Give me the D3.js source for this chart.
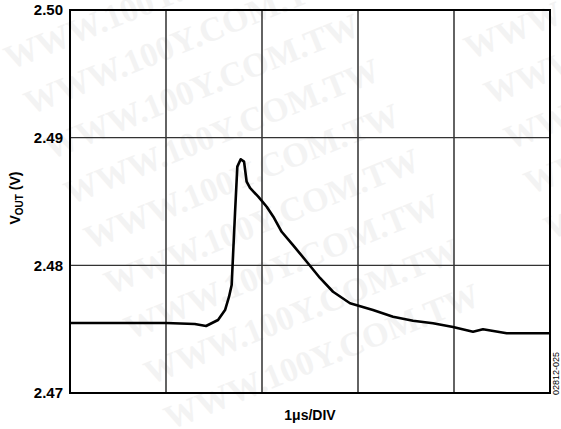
<!doctype html>
<html>
<head>
<meta charset="utf-8">
<script src="https://d3js.org/d3.v7.min.js"></script>
<style>
  body { margin: 0; background: #fff; }
  text { font-family: Arial, "Liberation Sans", sans-serif; }
  .tick-label { font-size: 15px; font-weight: bold; }
  .wm { font-family: "Liberation Serif", "DejaVu Serif", serif; font-weight: bold; font-size: 34px; fill: #f3f3f3; }
</style>
</head>
<body>
<svg width="561" height="429"></svg>
<script>
// time in microseconds, output voltage in volts
var timeUs = [0, 1.0, 1.30, 1.417, 1.542, 1.615, 1.656, 1.684, 1.719, 1.743, 1.778, 1.813, 1.840, 1.875,
              1.961, 2.049, 2.118, 2.205, 2.323, 2.466, 2.604, 2.740, 2.917, 3.156, 3.365, 3.573,
              3.781, 3.990, 4.198, 4.302, 4.549, 5.0];
var voutV = [2.47548, 2.47548, 2.47540, 2.47525, 2.47572, 2.47650, 2.47752, 2.47846, 2.48410, 2.48773,
             2.48831, 2.48812, 2.48655, 2.48606, 2.48538, 2.48459, 2.48381, 2.48263, 2.48159, 2.48028,
             2.47901, 2.47793, 2.47703, 2.47650, 2.47598, 2.47566, 2.47546, 2.47517, 2.47480, 2.47499,
             2.47468, 2.47468];
var yTicks = [2.47, 2.48, 2.49, 2.50];
var xDivs = [0, 1, 2, 3, 4, 5];

var svg = d3.select("svg");
var mLeft = 70, mRight = 550, mTop = 10, mBottom = 393;

// faint watermark
var wmPos = [[10, 70], [30, 115], [50, 160], [70, 205], [90, 250], [110, 295], [130, 340], [150, 385], [170, 430],
             [470, 60], [490, 105], [510, 150], [530, 195], [550, 240]];
svg.selectAll(".wm").data(wmPos).enter().append("text")
   .attr("class", "wm")
   .attr("transform", function(d) { return "translate(" + d[0] + "," + d[1] + ") rotate(-22)"; })
   .text("WWW.100Y.COM.TW");

var x = d3.scaleLinear().domain([0, 5]).range([mLeft, mRight]);
var y = d3.scaleLinear().domain([2.47, 2.50]).range([mBottom, mTop]);

// grid
svg.append("g").selectAll("line").data(xDivs.slice(1, -1)).enter().append("line")
   .attr("x1", function(d) { return x(d); }).attr("x2", function(d) { return x(d); })
   .attr("y1", mTop).attr("y2", mBottom)
   .attr("stroke", "#222").attr("stroke-width", 1.4);
svg.append("g").selectAll("line").data(yTicks.slice(1, -1)).enter().append("line")
   .attr("x1", mLeft).attr("x2", mRight)
   .attr("y1", function(d) { return y(d); }).attr("y2", function(d) { return y(d); })
   .attr("stroke", "#333").attr("stroke-width", 1.4);

// frame
svg.append("rect")
   .attr("x", mLeft).attr("y", mTop).attr("width", mRight - mLeft).attr("height", mBottom - mTop)
   .attr("fill", "none").attr("stroke", "#000").attr("stroke-width", 2);

// trace
var line = d3.line()
   .x(function(d, i) { return x(timeUs[i]); })
   .y(function(d) { return y(d); })
   .curve(d3.curveLinear);
svg.append("path")
   .datum(voutV)
   .attr("d", line)
   .attr("fill", "none").attr("stroke", "#000").attr("stroke-width", 2.6)
   .attr("stroke-linejoin", "round");

// y tick labels
var yAxis = d3.axisLeft(y).tickValues(yTicks).tickSize(0).tickPadding(7).tickFormat(d3.format(".2f"));
var ga = svg.append("g").attr("transform", "translate(" + mLeft + ",0)").call(yAxis);
ga.select(".domain").remove();
ga.selectAll("text").attr("class", "tick-label").attr("fill", "#000")
  .style("font-family", "Arial, 'Liberation Sans', sans-serif");

// axis titles
var yl = svg.append("text")
   .attr("transform", "translate(20,198) rotate(-90)")
   .attr("text-anchor", "middle")
   .attr("font-size", "14px").attr("font-weight", "bold");
yl.append("tspan").text("V");
yl.append("tspan").attr("font-size", "10px").attr("dy", 3).text("OUT");
yl.append("tspan").attr("dy", -3).text(" (V)");

svg.append("text")
   .attr("x", (mLeft + mRight) / 2).attr("y", 420)
   .attr("text-anchor", "middle")
   .attr("font-size", "14px").attr("font-weight", "bold")
   .text("1\u03bcs/DIV");

svg.append("text")
   .attr("transform", "translate(559,395) rotate(-90)")
   .attr("font-size", "9px")
   .text("02812-025");
</script>
</body>
</html>
